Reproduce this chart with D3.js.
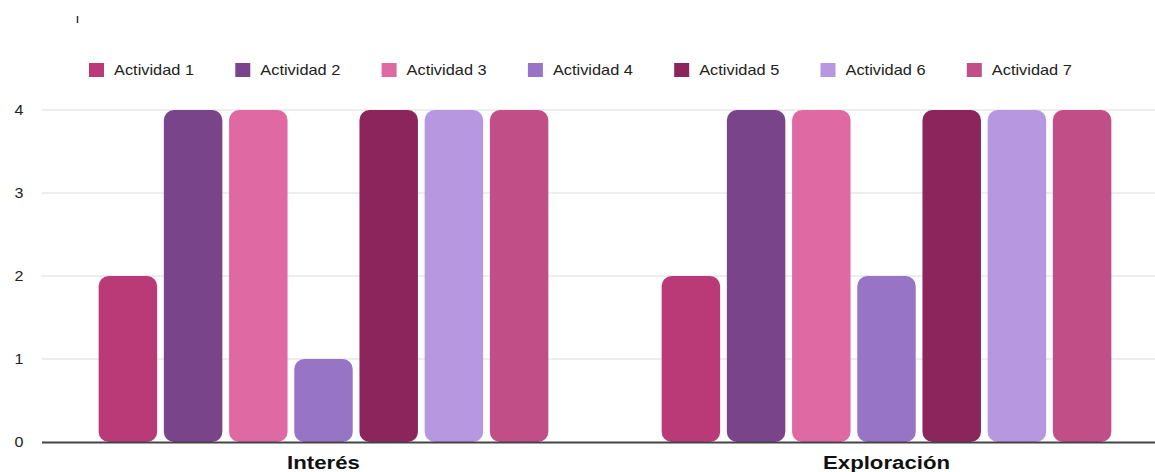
<!DOCTYPE html>
<html>
<head>
<meta charset="utf-8">
<script src="https://cdn.jsdelivr.net/npm/d3@7"></script>
<style>
  html, body { margin: 0; padding: 0; background: #fff; overflow: hidden; }
  svg { display: block; font-family: "Liberation Sans", Arial, sans-serif; }
</style>
</head>
<body>
<svg id="chart" width="1155" height="472"></svg>
<script>
const categories = ["Interés", "Exploración"];
const seriesNames = ["Actividad 1", "Actividad 2", "Actividad 3", "Actividad 4", "Actividad 5", "Actividad 6", "Actividad 7"];
const seriesColors = ["#BA3A78", "#7A448B", "#DF6AA3", "#9874C6", "#8C255B", "#B797E0", "#C24E88"];
const interesValues = [2, 4, 4, 1, 4, 4, 4];
const exploracionValues = [2, 4, 4, 2, 4, 4, 4];
const yTicks = [0, 1, 2, 3, 4];

const valuesByCategory = [interesValues, exploracionValues];

const svg = d3.select("#chart");
const margin = { left: 42, right: -13, top: 110, bottom: 30 };
const W = 1155, H = 472;
const x0 = d3.scaleBand().domain(categories).range([margin.left, W - margin.right]).paddingInner(0).paddingOuter(0);
const x1 = d3.scaleBand().domain(seriesNames).range([0, x0.bandwidth()]).paddingInner(0.103).paddingOuter(0.869);
const y = d3.scaleLinear().domain([0, 4]).range([H - margin.bottom, margin.top]);

// gridlines
svg.append("g").selectAll("line").data(yTicks.filter(d => d > 0)).join("line")
  .attr("x1", margin.left).attr("x2", W)
  .attr("y1", d => y(d)).attr("y2", d => y(d))
  .attr("stroke", "#dcdcdc").attr("stroke-width", 1);

// y labels
svg.append("g").selectAll("text").data(yTicks).join("text")
  .attr("transform", d => `translate(19,${y(d)}) scale(1.15,1)`)
  .attr("dy", "0.35em")
  .attr("text-anchor", "middle").attr("font-size", 14).attr("fill", "#222")
  .text(d => d);

// bars
const groups = svg.append("g").selectAll("g").data(categories).join("g")
  .attr("transform", d => `translate(${x0(d)},0)`);
groups.selectAll("rect").data((c, i) => seriesNames.map((s, j) => ({ s, v: valuesByCategory[i][j], color: seriesColors[j] })))
  .join("rect")
  .attr("x", d => x1(d.s)).attr("width", x1.bandwidth())
  .attr("y", d => y(d.v)).attr("height", d => y(0) - y(d.v))
  .attr("rx", 10).attr("ry", 10)
  .attr("fill", d => d.color);

// baseline
svg.append("line").attr("x1", margin.left).attr("x2", W)
  .attr("y1", y(0) + 0.5).attr("y2", y(0) + 0.5)
  .attr("stroke", "#444").attr("stroke-width", 2);

// category labels
svg.append("g").selectAll("text").data(categories).join("text")
  .attr("transform", d => `translate(${x0(d) + x0.bandwidth() / 2},469) scale(1.2,1)`)
  .attr("text-anchor", "middle").attr("font-size", 18.5).attr("font-weight", "bold").attr("fill", "#111")
  .text(d => d);

// legend
const legend = svg.append("g").selectAll("g").data(seriesNames).join("g")
  .attr("transform", (d, i) => `translate(${89 + i * 146.3},63)`);
legend.append("rect").attr("width", 15).attr("height", 14).attr("fill", (d, i) => seriesColors[i]);
legend.append("text").attr("transform", "translate(25,7) scale(1.17,1)").attr("dy", "0.35em")
  .attr("font-size", 14).attr("fill", "#222").text(d => d);

// small mark at top-left
svg.append("line").attr("x1", 77.5).attr("x2", 77.5).attr("y1", 16).attr("y2", 23)
  .attr("stroke", "#333").attr("stroke-width", 1.5);
</script>
</body>
</html>
